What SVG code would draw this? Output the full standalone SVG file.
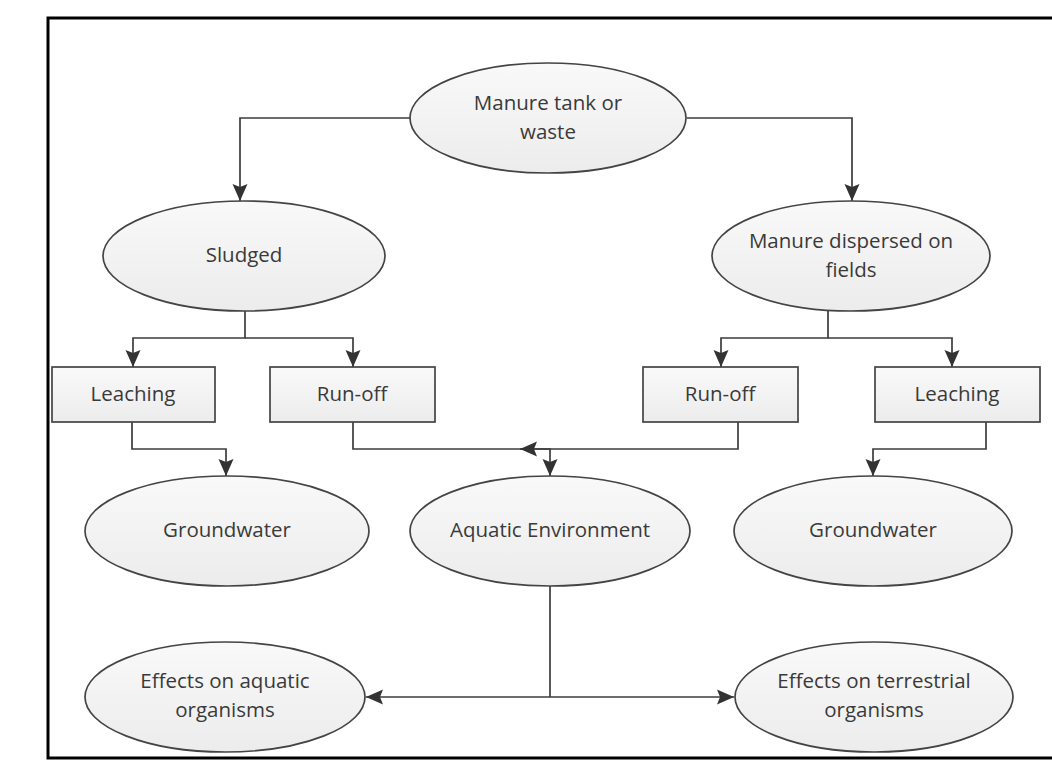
<svg xmlns="http://www.w3.org/2000/svg" width="1052" height="760" viewBox="0 0 1052 760">
<defs>
<linearGradient id="g" x1="0" y1="0" x2="0" y2="1">
<stop offset="0" stop-color="#f9f9f9"/>
<stop offset="1" stop-color="#ececec"/>
</linearGradient>
<marker id="a" markerUnits="userSpaceOnUse" markerWidth="18" markerHeight="18" viewBox="0 0 18 18" refX="17" refY="9" orient="auto">
<path d="M0,1.5 L17,9 L0,16.5 L3,9 Z" fill="#333"/>
</marker>
<style>
.n{fill:url(#g);stroke:#444;stroke-width:1.7}
.t{font-family:"Open Sans","Noto Sans",sans-serif;font-size:20.5px;fill:#3a3a3a;text-anchor:middle}
.c{fill:none;stroke:#3c3c3c;stroke-width:1.7;marker-end:url(#a)}
.l{fill:none;stroke:#3c3c3c;stroke-width:1.7}
</style>
</defs>
<rect x="0" y="0" width="1052" height="760" fill="#fff"/>
<rect x="48" y="18" width="1100" height="740" fill="none" stroke="#000" stroke-width="3"/>
<g id="connectors">
<path class="c" d="M410,118 H240 V201"/>
<path class="c" d="M687,118 H852 V201"/>
<path class="c" d="M245,311 V338 H133 V367"/>
<path class="c" d="M245,338 H353 V367"/>
<path class="c" d="M828,311 V338 H721 V367"/>
<path class="c" d="M828,338 H952 V367"/>
<path class="c" d="M132,422 V449 H226 V476"/>
<path class="c" d="M353,422 V449 H550 V476"/>
<path class="c" d="M738,422 V449 H520"/>
<path class="c" d="M986,422 V449 H873 V476"/>
<path class="l" d="M550,586 V697"/>
<path class="c" d="M550,697 H366"/>
<path class="c" d="M550,697 H734"/>
</g>
<g id="manure-tank">
<ellipse class="n" cx="548" cy="118" rx="138" ry="55"/>
<text class="t" x="548" y="110">Manure tank or</text>
<text class="t" x="548" y="139">waste</text>
</g>
<g id="sludged">
<ellipse class="n" cx="244" cy="256" rx="141" ry="55"/>
<text class="t" x="244" y="262">Sludged</text>
</g>
<g id="manure-dispersed">
<ellipse class="n" cx="851" cy="256" rx="139" ry="55"/>
<text class="t" x="851" y="248">Manure dispersed on</text>
<text class="t" x="851" y="277">fields</text>
</g>
<g id="leaching-left">
<rect class="n" x="52" y="367" width="163" height="55"/>
<text class="t" x="133" y="401">Leaching</text>
</g>
<g id="runoff-left">
<rect class="n" x="270" y="367" width="165" height="55"/>
<text class="t" x="352" y="401">Run-off</text>
</g>
<g id="runoff-right">
<rect class="n" x="643" y="367" width="155" height="55"/>
<text class="t" x="720" y="401">Run-off</text>
</g>
<g id="leaching-right">
<rect class="n" x="875" y="367" width="165" height="55"/>
<text class="t" x="957" y="401">Leaching</text>
</g>
<g id="groundwater-left">
<ellipse class="n" cx="227" cy="531" rx="142" ry="55"/>
<text class="t" x="227" y="537">Groundwater</text>
</g>
<g id="aquatic-environment">
<ellipse class="n" cx="550" cy="531" rx="140" ry="55"/>
<text class="t" x="550" y="537">Aquatic Environment</text>
</g>
<g id="groundwater-right">
<ellipse class="n" cx="873" cy="531" rx="139" ry="55"/>
<text class="t" x="873" y="537">Groundwater</text>
</g>
<g id="effects-aquatic">
<ellipse class="n" cx="225" cy="697" rx="140" ry="55"/>
<text class="t" x="225" y="688">Effects on aquatic</text>
<text class="t" x="225" y="717">organisms</text>
</g>
<g id="effects-terrestrial">
<ellipse class="n" cx="874" cy="697" rx="139" ry="55"/>
<text class="t" x="874" y="688">Effects on terrestrial</text>
<text class="t" x="874" y="717">organisms</text>
</g>
</svg>
